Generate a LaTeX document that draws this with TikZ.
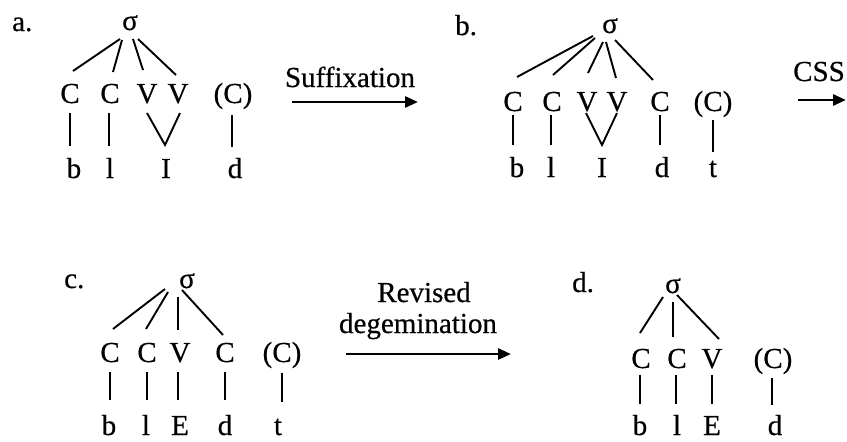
\documentclass[tikz,border=0pt]{standalone}
\usepackage{fontspec}
\setmainfont{Liberation Serif}
\newfontfamily\heavyserif[FakeBold=0.5]{Liberation Serif}
\usetikzlibrary{calc,arrows.meta}
\begin{document}
\begin{tikzpicture}[x=1pt,y=-1pt,
  lab/.style={anchor=base,inner sep=0pt,font=\heavyserif\fontsize{29}{33}\selectfont},
  tag/.style={anchor=base west,inner sep=0pt,font=\heavyserif\fontsize{29}{33}\selectfont},
  ln/.style={line width=1.9pt},
  arr/.style={line width=2.8pt,-{Triangle[length=13pt,width=11pt]}}]
\useasboundingbox (0,0) rectangle (847,442);

% ---------- panel a ----------
\node[tag] (tga) at (12,31) {a.};
\node[lab] (sa) at (130,30) {σ};
\node[lab] (ca1) at (70,103) {C};
\node[lab] (ca2) at (110,103) {C};
\node[lab] (va1) at (147,103) {V};
\node[lab] (va2) at (178,103) {V};
\node[lab] (pa) at (233,103) {(C)};
\node[lab] (ba) at (74,178) {b};
\node[lab] (la) at (110,178) {l};
\node[lab] (ia) at (166,178) {I};
\node[lab] (da) at (235,178) {d};
\draw[ln] ($(sa.base)+(-10,9)$) -- ($(ca1.base)+(3,-32)$);
\draw[ln] ($(sa.base)+(-8,10)$) -- ($(ca2.base)+(3,-31)$);
\draw[ln] ($(sa.base)+(3,9)$) -- ($(va1.base)+(-4,-33)$);
\draw[ln] ($(sa.base)+(8,9)$) -- ($(va2.base)+(-2,-28)$);
\draw[ln] ($(ca1.base)+(0,10)$) -- ($(ca1.base|-ba.base)+(0,-32)$);
\draw[ln] ($(ca2.base)+(-1,10)$) -- ($(ca2.base|-la.base)+(-1,-32)$);
\draw[ln] ($(va1.base)+(0,10)$) -- ($(ia.base)+(-1,-33)$) -- ($(va2.base)+(2,10)$);
\draw[ln] ($(pa.base)+(-1,12)$) -- ($(pa.base|-da.base)+(-1,-31)$);

% arrow a -> b
\coordinate (a1s) at (292,102);
\coordinate (a1e) at (418,102);
\node[lab] (suf) at (350,87) {Suffixation};
\draw[arr] (a1s) -- (a1e);

% ---------- panel b ----------
\node[tag] (tgb) at (455,35) {b.};
\node[lab] (sb) at (610,33) {σ};
\node[lab] (cb1) at (513,111) {C};
\node[lab] (cb2) at (552,111) {C};
\node[lab] (vb1) at (587,111) {V};
\node[lab] (vb2) at (617,111) {V};
\node[lab] (cb3) at (660,111) {C};
\node[lab] (pb) at (713,111) {(C)};
\node[lab] (bb) at (517,177) {b};
\node[lab] (lb) at (551,177) {l};
\node[lab] (ib) at (602,177) {I};
\node[lab] (db) at (662,177) {d};
\node[lab] (tb) at (713,177) {t};
\draw[ln] ($(sb.base)+(-17,3)$) -- ($(cb1.base)+(4,-34)$);
\draw[ln] ($(sb.base)+(-15,5)$) -- ($(cb2.base)+(1,-36)$);
\draw[ln] ($(sb.base)+(-7,9)$) -- ($(vb1.base)+(1,-38)$);
\draw[ln] ($(sb.base)+(-4,9)$) -- ($(vb2.base)+(-1,-33)$);
\draw[ln] ($(sb.base)+(5,7)$) -- ($(cb3.base)+(-7,-31)$);
\draw[ln] ($(cb1.base)+(0,4)$) -- ($(cb1.base|-bb.base)+(0,-32)$);
\draw[ln] ($(cb2.base)+(-1,4)$) -- ($(cb2.base|-lb.base)+(-1,-32)$);
\draw[ln] ($(vb1.base)+(-1,2)$) -- ($(ib.base)+(0,-32)$) -- ($(vb2.base)+(0,2)$);
\draw[ln] ($(cb3.base)+(0,4)$) -- ($(cb3.base|-db.base)+(0,-32)$);
\draw[ln] ($(pb.base)+(0,9)$) -- ($(pb.base|-tb.base)+(0,-25)$);

% arrow b -> c
\coordinate (a2s) at (798,100);
\coordinate (a2e) at (846,100);
\node[lab] (css) at (819,81) {CSS};
\draw[arr] (a2s) -- (a2e);

% ---------- panel c ----------
\node[tag] (tgc) at (64,288) {c.};
\node[lab] (sc) at (187,288) {σ};
\node[lab] (cc1) at (110,362) {C};
\node[lab] (cc2) at (147,362) {C};
\node[lab] (vc) at (180,362) {V};
\node[lab] (cc3) at (225,362) {C};
\node[lab] (pc) at (282,362) {(C)};
\node[lab] (bc) at (109,435) {b};
\node[lab] (lc) at (146,435) {l};
\node[lab] (ec) at (180,435) {E};
\node[lab] (dc) at (225,435) {d};
\node[lab] (tc) at (278,435) {t};
\draw[ln] ($(sc.base)+(-22,1)$) -- ($(cc1.base)+(3,-33)$);
\draw[ln] ($(sc.base)+(-19,4)$) -- ($(cc2.base)+(-1,-33)$);
\draw[ln] ($(sc.base)+(-9,9)$) -- ($(vc.base)+(-2,-32)$);
\draw[ln] ($(sc.base)+(-5,2)$) -- ($(cc3.base)+(-2,-27)$);
\draw[ln] ($(cc1.base)+(0,10)$) -- ($(cc1.base|-bc.base)+(0,-35)$);
\draw[ln] ($(cc2.base)+(0,10)$) -- ($(cc2.base|-lc.base)+(0,-35)$);
\draw[ln] ($(vc.base)+(-2,10)$) -- ($(vc.base|-ec.base)+(-2,-35)$);
\draw[ln] ($(cc3.base)+(0,10)$) -- ($(cc3.base|-dc.base)+(0,-35)$);
\draw[ln] ($(pc.base)+(0,11)$) -- ($(pc.base|-tc.base)+(0,-33)$);

% arrow c -> d
\coordinate (a3s) at (346,354);
\coordinate (a3e) at (511,354);
\node[lab] (rev) at (424,302) {Revised};
\node[lab] (deg) at (418,333) {degemination};
\draw[arr] (a3s) -- (a3e);

% ---------- panel d ----------
\node[tag] (tgd) at (572,292) {d.};
\node[lab] (sd) at (673,293) {σ};
\node[lab] (cd1) at (641,368) {C};
\node[lab] (cd2) at (677,368) {C};
\node[lab] (vd) at (712,368) {V};
\node[lab] (pd) at (773,368) {(C)};
\node[lab] (bd) at (640,435) {b};
\node[lab] (ld) at (677,435) {l};
\node[lab] (ed) at (712,435) {E};
\node[lab] (dd) at (775,435) {d};
\draw[ln] ($(sd.base)+(-10,4)$) -- ($(cd1.base)+(-1,-35)$);
\draw[ln] ($(sd.base)+(0,9)$) -- ($(cd2.base)+(-4,-31)$);
\draw[ln] ($(sd.base)+(4,2)$) -- ($(vd.base)+(7,-29)$);
\draw[ln] ($(cd1.base)+(-1,7)$) -- ($(cd1.base|-bd.base)+(-1,-31)$);
\draw[ln] ($(cd2.base)+(-1,7)$) -- ($(cd2.base|-ld.base)+(-1,-31)$);
\draw[ln] ($(vd.base)+(0,7)$) -- ($(vd.base|-ed.base)+(0,-31)$);
\draw[ln] ($(pd.base)+(-1,10)$) -- ($(pd.base|-dd.base)+(-1,-30)$);
\end{tikzpicture}
\end{document}
